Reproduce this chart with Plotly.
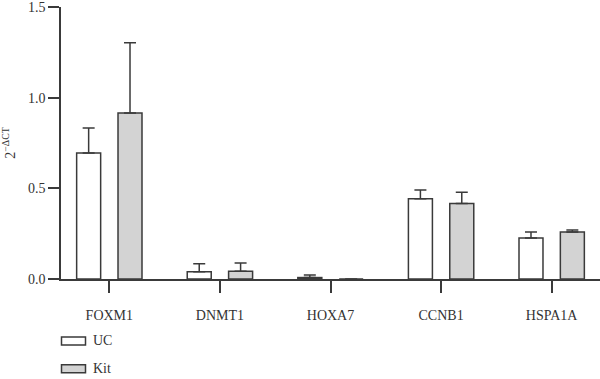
import plotly.graph_objects as go

categories = ["FOXM1", "DNMT1", "HOXA7", "CCNB1", "HSPA1A"]
uc_values = [0.695, 0.040, 0.008, 0.443, 0.226]
uc_errors = [0.138, 0.044, 0.014, 0.048, 0.033]
kit_values = [0.916, 0.043, 0.0, 0.416, 0.259]
kit_errors = [0.387, 0.045, 0.0, 0.062, 0.011]
y_ticks = [0.0, 0.5, 1.0, 1.5]
y_tick_labels = ["0.0", "0.5", "1.0", "1.5"]
series_names = ["UC", "Kit"]

line_col = "#3a3a3a"
fills = ["#ffffff", "#d3d3d3"]
font_fam = "Liberation Serif, Times New Roman, serif"

W, H = 600, 379
ML, MR, MT, MB = 61, 0, 7, 99.5
PW, PH = W - ML - MR, H - MT - MB


def px_x(px):
    return (px - ML) / PW


def px_y(py):
    return (H - MB - py) / PH


xs = list(range(len(categories)))
bw = 0.217
off = 0.187

fig = go.Figure()
for name, vals, errs, fill, sgn in [
    (series_names[0], uc_values, uc_errors, fills[0], -1),
    (series_names[1], kit_values, kit_errors, fills[1], 1),
]:
    fig.add_trace(go.Bar(
        x=xs, y=vals, name=name, width=bw, offset=sgn * off - bw / 2,
        marker=dict(color=fill, line=dict(color=line_col, width=1.5)),
        error_y=dict(type="data", array=errs, arrayminus=[0] * len(errs),
                     symmetric=False, color=line_col, thickness=1.5, width=6),
        showlegend=False, cliponaxis=False,
    ))

fig.update_layout(
    width=W, height=H,
    margin=dict(l=ML, r=MR, t=MT, b=MB, autoexpand=False),
    plot_bgcolor="white", paper_bgcolor="white",
    barmode="overlay",
    font=dict(family=font_fam, size=14, color="#333333"),
    xaxis=dict(
        range=[-0.437, 4.437], tickmode="array", tickvals=xs, ticktext=categories,
        showline=True, linecolor=line_col, linewidth=1.5,
        ticks="outside", ticklen=12, tickwidth=1.5, tickcolor=line_col,
        showgrid=False, zeroline=False, ticklabelstandoff=10, automargin=False,
        ticklabeloverflow="allow",
    ),
    yaxis=dict(
        range=[0, 1.5], tickmode="array", tickvals=y_ticks, ticktext=y_tick_labels,
        showline=True, linecolor=line_col, linewidth=1.5,
        ticks="outside", ticklen=11, tickwidth=1.5, tickcolor=line_col,
        showgrid=False, zeroline=False, automargin=False,
        ticklabeloverflow="allow",
        title=dict(text="2<sup>−ΔCT</sup>", font=dict(size=14), standoff=12),
    ),
)

# legend drawn as rectangles + labels
legend_y = [341.5, 369.5]
for i, name in enumerate(series_names):
    yc = legend_y[i]
    fig.add_shape(type="rect", xref="paper", yref="paper",
                  x0=px_x(61.5), x1=px_x(85.5), y0=px_y(yc + 4), y1=px_y(yc - 4),
                  line=dict(color=line_col, width=1.5), fillcolor=fills[i])
    fig.add_annotation(x=px_x(91), y=px_y(yc), xref="paper", yref="paper", text=name,
                       showarrow=False, xanchor="left", yanchor="middle",
                       font=dict(size=14, family=font_fam, color="#333333"))

fig.write_html("out.html", config={"displayModeBar": False},
               post_script="document.body.style.margin='0';document.body.style.overflow='hidden';")
